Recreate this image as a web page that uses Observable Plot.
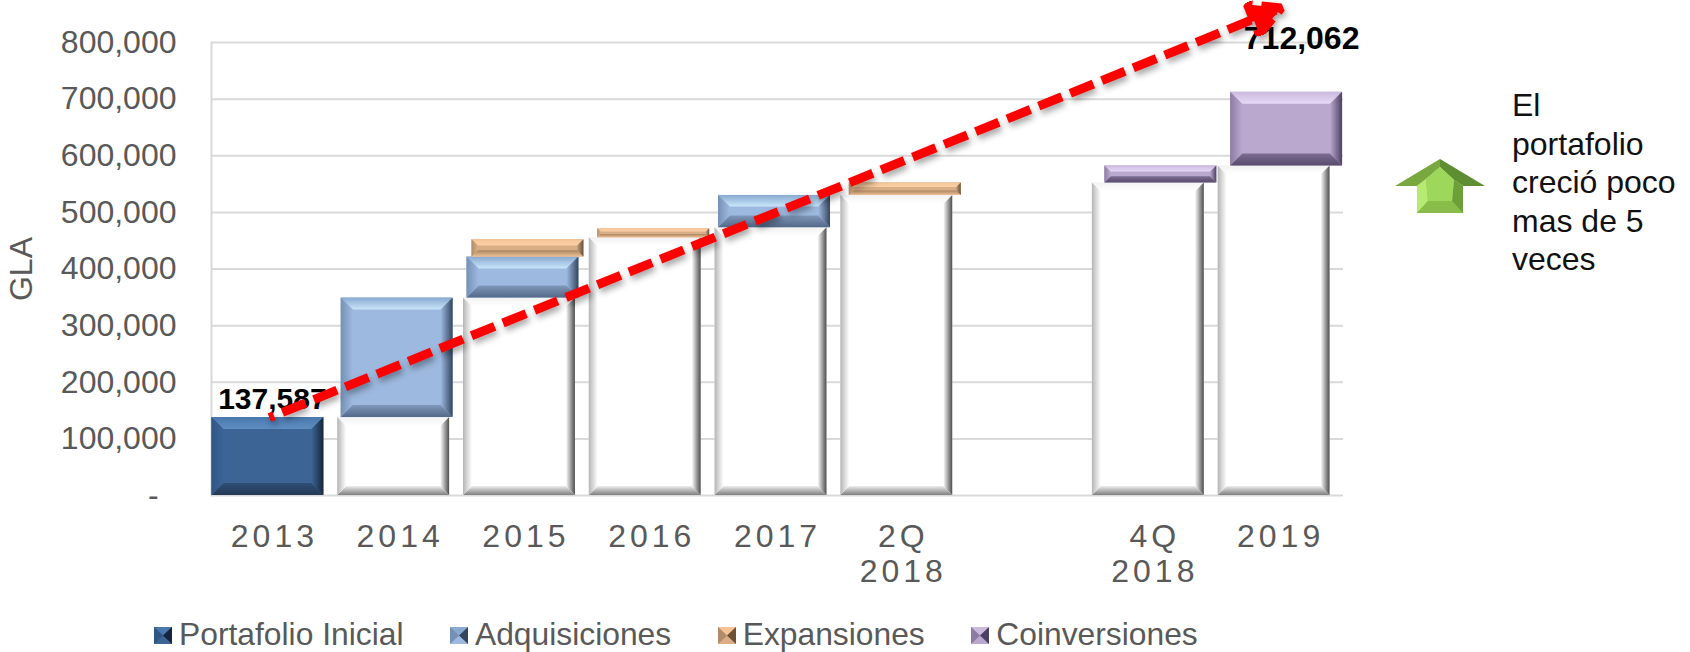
<!DOCTYPE html>
<html lang="es">
<head>
<meta charset="utf-8">
<script src="https://cdn.jsdelivr.net/npm/d3@7"></script>
<script src="https://cdn.jsdelivr.net/npm/@observablehq/plot@0.6"></script>
<style>
  html, body { margin: 0; padding: 0; background: #fff; }
  body { position: relative; width: 1690px; height: 652px; overflow: hidden; font-family: "Liberation Sans", Arial, sans-serif; }
  #chart svg { display: block; overflow: visible; }
  #chart g[aria-label="x-axis tick label"] { letter-spacing: 4px; }
  #note { position: absolute; left: 1512px; top: 86px; font-size: 32px; line-height: 38.6px; color: #111; white-space: pre; }
  #icon { position: absolute; left: 1395px; top: 159px; }
  #legend { position: absolute; left: 154px; top: 615px; display: flex; font-size: 31.8px; line-height: 38px; color: #595959; white-space: nowrap; }
  #legend .item { display: flex; align-items: center; margin-right: 46.5px; }
  #legend svg { margin-right: 7px; margin-top: 3px; }
</style>
</head>
<body>
<div id="chart"></div>
<svg id="icon" width="90" height="54" viewBox="0 0 90 54">
  <polygon points="45,0 0,27 22,27 31,20 45,8" fill="#79a93e"/>
  <polygon points="45,0 90,27 68,27 59,21 45,8" fill="#5e8e31"/>
  <polygon points="22,27 31,20 45,8 59,21 68,27 68,54 22,54" fill="#8dc44e"/>
  <polygon points="22,27 31,20 33,42 22,54" fill="#b6ea70"/>
  <polygon points="68,27 59,21 57,42 68,54" fill="#6c9e39"/>
  <polygon points="31,20 45,8 59,21 57,42 33,42" fill="#9ed85b"/>
  <polygon points="22,54 33,42 57,42 68,54" fill="#88bd49"/>
</svg>
<div id="note">El
portafolio
creció poco
mas de 5
veces</div>
<div id="legend"></div>
<script>
// ---------- data ----------
const categories = ["2013", "2014", "2015", "2016", "2017", "2Q\n2018", " ", "4Q\n2018", "2019"];
const baseValues  = [0, 137587, 348600, 455000, 473000, 530000, 0, 552000, 582000];
const portafolio  = [137587, 0, 0, 0, 0, 0, 0, 0, 0];
const adquisiciones = [0, 211000, 72400, 0, 57000, 0, 0, 0, 0];
const expansiones = [0, 0, 30700, 16000, 0, 22000, 0, 0, 0];
const coinversiones = [0, 0, 0, 0, 0, 0, 0, 30000, 130062];
const yTicks = [0, 100000, 200000, 300000, 400000, 500000, 600000, 700000, 800000];
const growthYears = ["2013", "2019"];
const growthValues = [137587, 857000];
const startLabel = 137587;
const endLabel = 712062;

// ---------- styles ----------
const FONT = "'Liberation Sans', Arial, sans-serif";
const look = {
  base: {fill: "#ffffff", top: ["#f2f2f2", "#ffffff"], left: ["#b5b5b5", "#ffffff"], right: ["#4d4d4d", "#ffffff"], bottom: ["#7f7f7f", "#ececec"], dx: -6.5, bevel: 9},
  portafolio: {fill: "#3c6595", top: ["#4a78ac", "#5f8ec3"], left: ["#2f5585", "#3c6595"], right: ["#16263e", "#3c6595"], bottom: ["#233954", "#2f4f77"], dx: -6.5, bevel: 12},
  adquisiciones: {fill: "#9db9df", top: ["#88a9d0", "#c9e6fb"], left: ["#7490b4", "#9db9df"], right: ["#34465f", "#9db9df"], bottom: ["#54698a", "#7f97b9"], dx: -3, bevel: 12},
  expansiones: {fill: "#d9ad85", top: ["#f4c497", "#fdd0a5"], left: ["#b08c68", "#d9ad85"], right: ["#6d5038", "#c09d7d"], bottom: ["#f0c096", "#a98560"], dx: 2, bevel: 12},
  coinversiones: {fill: "#bba8cf", top: ["#cbb9de", "#e6d9f6"], left: ["#8d7ba3", "#bba8cf"], right: ["#4c4060", "#bba8cf"], bottom: ["#584b6c", "#7d6d92"], dx: 6, bevel: 12}
};

const seriesOrder = [
  ["base", baseValues],
  ["portafolio", portafolio],
  ["adquisiciones", adquisiciones],
  ["expansiones", expansiones],
  ["coinversiones", coinversiones]
];

// stack the series category by category
const rowsBySeries = {};
categories.forEach((c, i) => {
  let running = 0;
  for (const [name, values] of seriesOrder) {
    const v = values[i];
    (rowsBySeries[name] ||= []);
    if (v > 0) rowsBySeries[name].push({category: c, y1: running, y2: running + v});
    running += v;
  }
});

// turns each bar that Plot drew into a bevelled one
function bevel(name) {
  const st = look[name];
  const NS = "http://www.w3.org/2000/svg";
  return function(index, scales, values, dimensions, context, next) {
    const g = next(index, scales, values, dimensions, context);
    const defs = document.createElementNS(NS, "defs");
    const dirs = {top: [0, 0, 0, 1], bottom: [0, 1, 0, 0], left: [0, 0, 1, 0], right: [1, 0, 0, 0]};
    for (const k in dirs) {
      const gr = document.createElementNS(NS, "linearGradient");
      gr.setAttribute("id", `${name}-${k}`);
      ["x1", "y1", "x2", "y2"].forEach((a, i) => gr.setAttribute(a, dirs[k][i]));
      st[k].forEach((col, i) => {
        const s = document.createElementNS(NS, "stop");
        s.setAttribute("offset", i);
        s.setAttribute("stop-color", col);
        gr.appendChild(s);
      });
      defs.appendChild(gr);
    }
    g.appendChild(defs);
    for (const r of [...g.querySelectorAll("rect")]) {
      const x = +r.getAttribute("x"), y = +r.getAttribute("y");
      const w = +r.getAttribute("width"), h = +r.getAttribute("height");
      const b = Math.min(st.bevel, h * 0.36);
      const poly = (k, pts) => {
        const p = document.createElementNS(NS, "polygon");
        p.setAttribute("points", pts.map(q => q.join(",")).join(" "));
        p.setAttribute("fill", `url(#${name}-${k})`);
        g.appendChild(p);
      };
      poly("top", [[x, y], [x + w, y], [x + w - b, y + b], [x + b, y + b]]);
      poly("bottom", [[x, y + h], [x + w, y + h], [x + w - b, y + h - b], [x + b, y + h - b]]);
      poly("left", [[x, y], [x + b, y + b], [x + b, y + h - b], [x, y + h]]);
      poly("right", [[x + w, y], [x + w - b, y + b], [x + w - b, y + h - b], [x + w, y + h]]);
    }
    return g;
  };
}

const barMarks = seriesOrder.map(([name]) =>
  Plot.barY(rowsBySeries[name], {
    x: "category", y1: "y1", y2: "y2",
    fill: look[name].fill,
    dx: look[name].dx,
    render: bevel(name)
  })
);

// arrow head for the dashed growth line
function head() {
  return d3.create("svg:marker")
    .attr("viewBox", "-32 -18 42 36")
    .attr("markerWidth", 42).attr("markerHeight", 36)
    .attr("markerUnits", "userSpaceOnUse")
    .attr("orient", "auto")
    .call(m => m.append("path").attr("d", "M-24,-16 L6,0 L-24,16 Z").attr("fill", "#ff0000"))
    .node();
}

const chart = Plot.plot({
  width: 1690,
  height: 596,
  marginLeft: 211,
  marginRight: 347,
  marginTop: 42,
  marginBottom: 101,
  style: {fontFamily: FONT, fontSize: "32px", color: "#595959", background: "transparent"},
  x: {domain: categories, paddingInner: 0.11, paddingOuter: 0.055, align: 0.5, round: false},
  y: {domain: [0, 800000]},
  marks: [
    Plot.ruleY(yTicks, {stroke: "#d9d9d9", strokeWidth: 2}),
    Plot.axisY({
      ticks: yTicks, tickSize: 0, tickPadding: 35,
      tickFormat: d => d === 0 ? "-\u00a0\u00a0" : d3.format(",")(d),
      label: "GLA", labelAnchor: "center", labelArrow: "none", labelOffset: 202,
      fill: "#595959", fontSize: 32
    }),
    Plot.axisX({
      tickSize: 0, tickPadding: 26, label: null, lineHeight: 1.1, lineAnchor: "top",
      fill: "#595959", fontSize: 32
    }),
    Plot.frame({anchor: "left", stroke: "#d9d9d9", strokeWidth: 2}),
    ...barMarks,
    Plot.text([startLabel], {
      x: () => categories[0], y: d => d, text: d => d3.format(",")(d),
      fontWeight: "bold", fontSize: 30, fill: "#000", dy: -18, dx: -2
    }),
    Plot.text([endLabel], {
      x: () => categories[8], y: d => d, text: d => d3.format(",")(d),
      fontWeight: "bold", fontSize: 32, fill: "#000", dy: -54, dx: 21
    }),
    Plot.line(growthYears.map((c, i) => ({c, v: growthValues[i]})), {
      x: "c", y: "v", stroke: "#ff0000", strokeWidth: 9,
      strokeLinecap: "butt", strokeLinejoin: "miter",
      strokeDasharray: "25 9", strokeDashoffset: 20, dx: -5,
      imageFilter: "drop-shadow(2px 4px 3px rgba(0,0,0,0.35))",
      markerEnd: head
    })
  ]
});
document.getElementById("chart").appendChild(chart);

// ---------- legend ----------
const legendItems = [["Portafolio Inicial", "portafolio"], ["Adquisiciones", "adquisiciones"], ["Expansiones", "expansiones"], ["Coinversiones", "coinversiones"]];
const legend = document.getElementById("legend");
for (const [label, key] of legendItems) {
  const s = look[key];
  const item = document.createElement("div");
  item.className = "item";
  item.innerHTML = `<svg width="18" height="17" viewBox="0 0 18 17">
    <rect width="18" height="17" fill="${s.fill}"/>
    <polygon points="0,0 18,0 9,8.5" fill="${s.top[0]}"/>
    <polygon points="0,17 18,17 9,8.5" fill="${s.left[1]}"/>
    <polygon points="0,0 9,8.5 0,17" fill="${s.left[0]}"/>
    <polygon points="18,0 9,8.5 18,17" fill="${s.right[0]}"/>
  </svg><span>${label}</span>`;
  legend.appendChild(item);
}
</script>
</body>
</html>
